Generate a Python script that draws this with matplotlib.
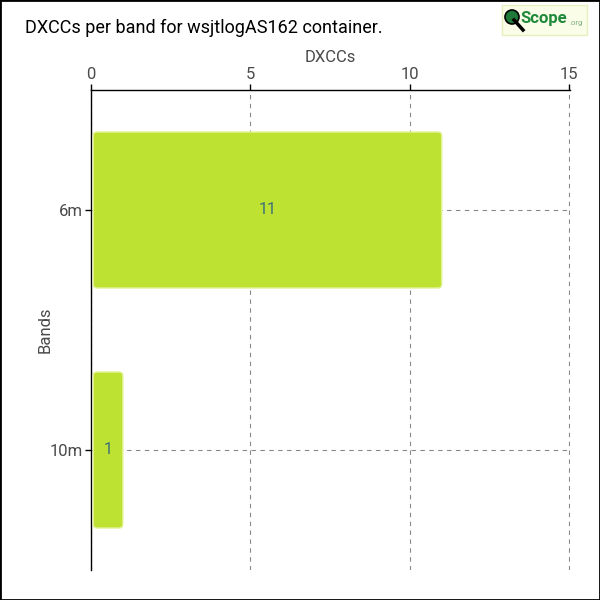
import matplotlib.pyplot as plt
from matplotlib.lines import Line2D
from matplotlib.patches import Circle, FancyBboxPatch, Rectangle

bands = ["6m", "10m"]
dxccs = [11, 1]
x_ticks = [0, 5, 10, 15]

BAR_COLOR = "#bde232"
EDGE_COLOR = "#e4f29a"
TEXT_COLOR = "#4a4a4a"
LABEL_COLOR = "#3b6e7a"

plt.rcParams["font.family"] = ["Roboto", "DejaVu Sans"]

fig = plt.figure(figsize=(6, 6), dpi=100)
ax = fig.add_axes([91 / 600, 30 / 600, 479 / 600, 480 / 600])

y = list(range(len(bands)))
bars = ax.barh(y, dxccs, height=0.65, color=BAR_COLOR, zorder=3)
# swap plain bars for slightly rounded ones
for b in bars:
    x0, y0, w, h = b.get_x(), b.get_y(), b.get_width(), b.get_height()
    b.remove()
    ax.add_patch(FancyBboxPatch((x0 + 0.07, y0), w - 0.07, h,
                                boxstyle="round,pad=0,rounding_size=0.12",
                                mutation_aspect=0.135, facecolor=BAR_COLOR,
                                edgecolor=EDGE_COLOR, linewidth=1, zorder=3))

for yi, v in zip(y, dxccs):
    ax.text(v / 2 + 0.03, yi, str(v), ha="center", va="center",
            color=LABEL_COLOR, fontsize=11.5, zorder=4)

ax.set_xlim(0, 15.02)
ax.set_ylim(1.5, -0.5)
ax.set_yticks(y)
ax.set_yticklabels(bands)
ax.set_xticks(x_ticks)
ax.xaxis.tick_top()
ax.xaxis.set_label_position("top")
ax.set_xlabel("DXCCs", color=TEXT_COLOR, fontsize=12, labelpad=3)
ax.set_ylabel("Bands", color=TEXT_COLOR, fontsize=12)
ax.yaxis.set_label_coords(-0.081, 0.5)
ax.tick_params(labelsize=12, length=4, width=1, pad=2)
ax.tick_params(axis="x", colors="black", labelcolor=TEXT_COLOR)
ax.tick_params(axis="y", colors="black", labelcolor=TEXT_COLOR)
ax.grid(color="#888888", linestyle=(0, (4, 4)), linewidth=0.8, zorder=1)
ax.set_axisbelow(True)
for side in ["right", "bottom"]:
    ax.spines[side].set_visible(False)
for side in ["top", "left"]:
    ax.spines[side].set_color("black")
    ax.spines[side].set_linewidth(1)

fig.text(25 / 600, 1 - 28 / 600, "DXCCs per band for wsjtlogAS162 container.",
         fontsize=13, ha="left", va="center", color="black")

# logo
fig.patches.append(Rectangle((502 / 600, 1 - 35 / 600), 85 / 600, 30 / 600,
                             transform=fig.transFigure, facecolor="#fafde8",
                             edgecolor="#e6efbf", linewidth=1))
fig.lines.append(Line2D([514 / 600, 523 / 600], [1 - 20 / 600, 1 - 30 / 600],
                        transform=fig.transFigure, color="black", linewidth=2.5))
fig.patches.append(Circle((512 / 600, 1 - 17 / 600), 7 / 600,
                          transform=fig.transFigure, facecolor="#1f7a3a",
                          edgecolor="black", linewidth=1.2))
fig.text(520 / 600, 1 - 19 / 600, "Scope", color="#1f8a3a", fontsize=12,
         ha="left", va="center", fontweight="bold")
fig.text(569 / 600, 1 - 23 / 600, ".org", color="#7bb07a", fontsize=5.5,
         ha="left", va="center")

# outer border
fig.patches.append(Rectangle((0, 0), 1, 1, transform=fig.transFigure,
                             fill=False, edgecolor="black", linewidth=2))

fig.savefig("out.png", dpi=100)
